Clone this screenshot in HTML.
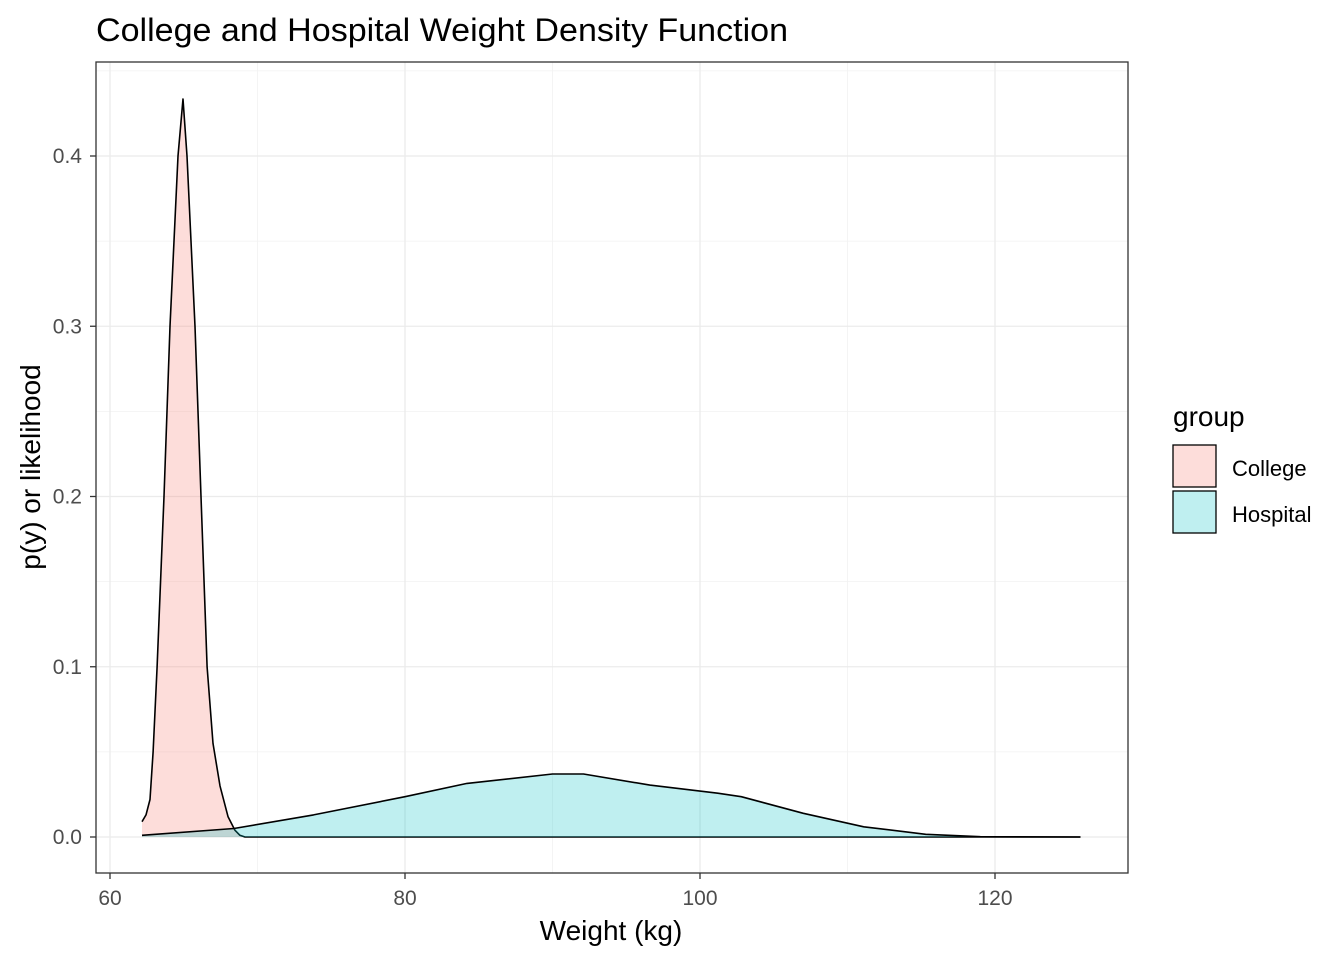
<!DOCTYPE html>
<html><head><meta charset="utf-8"><style>
body{margin:0;background:#fff;font-family:"Liberation Sans",Arial,sans-serif}
svg text{font-family:"Liberation Sans",Arial,sans-serif}
</style></head><body>
<svg id="chart" width="1344" height="960" xmlns="http://www.w3.org/2000/svg">
<rect width="1344" height="960" fill="#fff"/>
<text x="96" y="41" font-size="32" textLength="692" lengthAdjust="spacingAndGlyphs" fill="#000">College and Hospital Weight Density Function</text>
<g id="grid"></g>
<g id="marks"></g>
<rect x="96" y="62" width="1032" height="811" fill="none" stroke="#333" stroke-width="1.3"/>
<g id="axes"></g>
<text x="611" y="940" font-size="28" text-anchor="middle" fill="#000">Weight (kg)</text>
<text transform="translate(40,467) rotate(-90)" font-size="28" text-anchor="middle" fill="#000">p(y) or likelihood</text>
<g>
<text x="1173" y="426" font-size="28" fill="#000">group</text>
<rect x="1173" y="445" width="43" height="42" fill="rgba(248,118,109,0.25)" stroke="#000" stroke-width="1.3"/>
<text x="1232" y="476" font-size="22" fill="#000">College</text>
<rect x="1173" y="491" width="43" height="42" fill="rgba(0,191,196,0.25)" stroke="#000" stroke-width="1.3"/>
<text x="1232" y="522" font-size="22" fill="#000">Hospital</text>
</g>
</svg>
<script>
const xTicks=[60,80,100,120];
const xMinor=[70,90,110];
const yTicks=[0,0.1,0.2,0.3,0.4];
const yTickLabels=["0.0","0.1","0.2","0.3","0.4"];
const collegeX=[62.17,62.44,62.71,62.92,63.19,63.66,64.07,64.61,64.95,65.22,65.76,66.17,66.58,66.98,67.46,68.0,68.47,68.81,69.15,125.8];
const collegeY=[0.009,0.013,0.022,0.05,0.1,0.2,0.3,0.4,0.4335,0.4,0.3,0.2,0.1,0.055,0.03,0.012,0.004,0.001,0,0];
const hospitalX=[62.17,68.4,73.8,80,84.2,90.0,92.1,96.6,101.2,102.8,107.0,111.1,115.3,119,125.8];
const hospitalY=[0.001,0.005,0.013,0.0237,0.0315,0.037,0.037,0.0305,0.0257,0.0237,0.0139,0.006,0.0016,0.0002,0];
const sx=v=>110+(v-60)*14.75;
const sy=v=>837-v*1702.5;
const NS="http://www.w3.org/2000/svg";
function mk(tag,attrs,parent){const e=document.createElementNS(NS,tag);for(const k in attrs)e.setAttribute(k,attrs[k]);parent.appendChild(e);return e;}
const grid=document.getElementById('grid'),marks=document.getElementById('marks'),axes=document.getElementById('axes');
mk('rect',{x:96,y:62,width:1032,height:811,fill:'#fff'},grid);
xMinor.forEach(t=>{
  const m=mk('line',{x1:sx(t),x2:sx(t),y1:62,y2:873,stroke:'#f2f2f2','stroke-width':0.8},grid);
  
  
});
for(let i=0;i<yTicks.length;i++){
  const m=mk('line',{x1:96,x2:1128,y1:sy(yTicks[i]+0.05),y2:sy(yTicks[i]+0.05),stroke:'#f2f2f2','stroke-width':0.8},grid);
  
  
}
xTicks.forEach(t=>{
  const g=mk('line',{x1:sx(t),x2:sx(t),y1:62,y2:873,stroke:'#ebebeb','stroke-width':1.3},grid);
  
  
  const tk=mk('line',{x1:sx(t),x2:sx(t),y1:873,y2:879,stroke:'#333','stroke-width':1.3},axes);
  
  
  const l=mk('text',{x:sx(t),y:905,'font-size':21,'text-anchor':'middle',fill:'#4d4d4d'},axes);
  l.textContent=t;
  
  
});
yTicks.forEach((t,i)=>{
  const g=mk('line',{x1:96,x2:1128,y1:sy(t),y2:sy(t),stroke:'#ebebeb','stroke-width':1.3},grid);
  
  
  const tk=mk('line',{x1:90,x2:96,y1:sy(t),y2:sy(t),stroke:'#333','stroke-width':1.3},axes);
  
  
  const l=mk('text',{x:82,y:sy(t)+7,'font-size':21,'text-anchor':'end',fill:'#4d4d4d'},axes);
  l.textContent=yTickLabels[i];
  
  
});
function area(xs,ys,fill,name){
  let d='M'+sx(xs[0])+','+sy(0);
  for(let i=0;i<xs.length;i++)d+=' L'+sx(xs[i]).toFixed(1)+','+sy(ys[i]).toFixed(1);
  d+=' L'+sx(xs[xs.length-1])+','+sy(0)+' Z';
  const p=mk('path',{d:d,fill:fill,stroke:'none'},marks);
  
  
  let ld='';
  for(let i=0;i<xs.length;i++)ld+=(i?' L':'M')+sx(xs[i]).toFixed(1)+','+sy(ys[i]).toFixed(1);
  const ln=mk('path',{d:ld,fill:'none',stroke:'#000','stroke-width':1.6,'stroke-linejoin':'round'},marks);
  
  
}
area(collegeX,collegeY,'rgba(248,118,109,0.25)','college');
area(hospitalX,hospitalY,'rgba(0,191,196,0.25)','hospital');
</script>
</body></html>
